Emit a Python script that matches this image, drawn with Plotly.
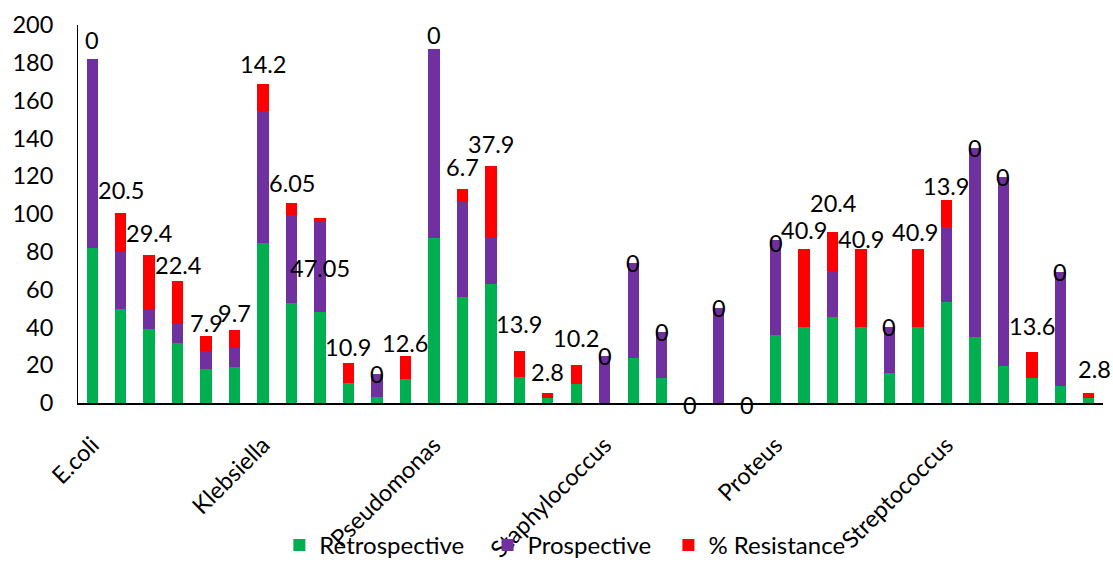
import plotly.graph_objects as go

organisms = ["E.coli", "Klebsiella", "Pseudomonas", "Staphylococcus", "Proteus", "Streptococcus"]

retrospective = [82, 50, 39, 32, 18, 19,
                 84.5, 53, 48.3, 10.4, 3.3, 12.5,
                 87.2, 56.3, 62.8, 13.6, 2.5, 9.9,
                 0, 23.7, 13.1, 0, 0, 0,
                 36, 40.4, 45.4, 40.4, 15.7, 40.4,
                 53.6, 34.8, 19.8, 13.4, 9.2, 2.5]

prospective = [100, 30, 10, 10, 9.7, 10,
               70, 46.7, 47.4, 0, 11.9, 0,
               100, 50, 24.7, 0, 0, 0,
               24.9, 50.3, 24.7, 0, 50.1, 0,
               50.3, 0, 24.7, 0, 24.7, 0,
               39.7, 100, 100, 0, 60.3, 0]

resistance = [0, 20.5, 29.4, 22.4, 7.9, 9.7,
              14.2, 6.05, 2.1, 10.9, 0, 12.6,
              0, 6.7, 37.9, 13.9, 2.8, 10.2,
              0, 0, 0, 0, 0, 0,
              0, 40.9, 20.4, 40.9, 0, 40.9,
              13.9, 0, 0, 13.6, 0, 2.8]

labels = ["0", "20.5", "29.4", "22.4", "7.9", "9.7",
          "14.2", "6.05", "47.05", "10.9", "0", "12.6",
          "0", "6.7", "37.9", "13.9", "2.8", "10.2",
          "0", "0", "0", "0", "0", "0",
          "0", "40.9", "20.4", "40.9", "0", "40.9",
          "13.9", "0", "0", "13.6", "0", "2.8"]

series_names = ["Retrospective", "Prospective", "% Resistance"]

# layout helpers (pixel offsets of the data labels)
label_yshift = [19, 23, 22, 16, 13, 17,
                20, 20, -50, 16, 0, 13,
                14, 22, 22, 27, 21, 27,
                0, 0, 0, -2, 0, -2,
                -3, 19, 29, 10, 0, 17,
                14, 0, 0, 26, 0, 24]
label_xshift = [0] * 36
label_xshift[29] = -3
label_xshift[35] = 6

FONT = "Lato"
FS = 23.5
n_per_group = len(retrospective) // len(organisms)
x = list(range(len(retrospective)))
tick_positions = [i * n_per_group for i in range(len(organisms))]

fig = go.Figure()
fig.add_trace(go.Bar(x=x, y=retrospective, name=series_names[0] + "\u00a0\u00a0\u00a0",
                     marker_color="#00B050", marker_line_width=0))
fig.add_trace(go.Bar(x=x, y=prospective, name=series_names[1] + "\u00a0\u00a0",
                     marker_color="#7030A0", marker_line_width=0))
fig.add_trace(go.Bar(x=x, y=resistance, name=series_names[2],
                     marker_color="#FF0000", marker_line_width=0))

totals = [a + b + c for a, b, c in zip(retrospective, prospective, resistance)]
for i, (t, lab) in enumerate(zip(totals, labels)):
    fig.add_annotation(x=i, y=t, text=lab, showarrow=False, yshift=label_yshift[i],
                       xshift=label_xshift[i], yanchor="middle", xanchor="center",
                       font=dict(family=FONT, size=FS, color="black"))

fig.update_layout(
    width=1113, height=568,
    barmode="stack", bargap=0.6,
    plot_bgcolor="white", paper_bgcolor="white",
    margin=dict(l=78, r=10, t=25, b=165, autoexpand=False),
    font=dict(family=FONT, size=FS, color="black"),
    showlegend=True,
    legend=dict(orientation="h", xref="container", yref="container", x=0.251, y=-0.007,
                xanchor="left", yanchor="bottom", traceorder="normal",
                bgcolor="rgba(0,0,0,0)",
                font=dict(family=FONT, size=24, color="black")),
    xaxis=dict(range=[-0.5, 35.5], tickmode="array", tickvals=tick_positions,
               ticktext=organisms, tickangle=-45, showline=True, linecolor="black",
               linewidth=2, showgrid=False, zeroline=False, ticks="", automargin=False,
               ticklabelstandoff=17, tickfont=dict(family=FONT, size=FS)),
    yaxis=dict(range=[0, 200], dtick=20, showline=True, linecolor="black", linewidth=1,
               showgrid=False, zeroline=False, ticks="", automargin=False,
               ticklabelstandoff=19, tickfont=dict(family=FONT, size=FS)),
)

fig.write_html("out.html", config={"displayModeBar": False},
               post_script="document.body.style.margin='0';")
